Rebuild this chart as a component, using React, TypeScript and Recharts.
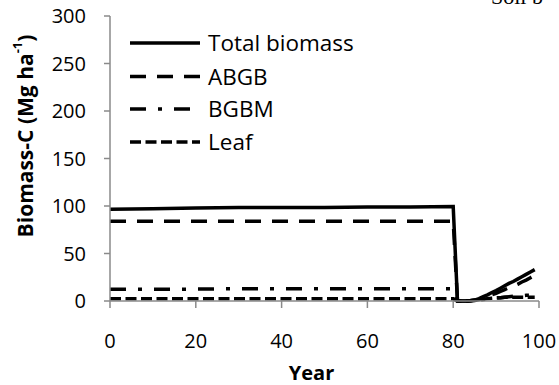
import React from 'react';
import { LineChart, Line, XAxis, YAxis, Label } from 'recharts';

// Years simulated (sparse before the harvest, yearly afterwards)
const years = [0, 10, 20, 30, 40, 50, 60, 70, 80, 81, 82, 83, 84, 85, 86, 87, 88, 89, 90, 91, 92, 93, 94, 95, 96, 97, 98, 99];

// Carbon pools, Mg C per hectare
const totalBiomass = [96.5, 97, 98, 98.5, 98.5, 98.5, 99, 99, 99.5, 0, 0, 0, 0.3, 1, 2.5, 4.5, 6.5, 9, 11, 13.5, 16, 18.5, 20.5, 23, 25.5, 28, 30.5, 33];
const abgb = [84, 84, 84, 84, 84, 84, 84, 84, 84, 0, 0, 0, 0.1, 0.5, 1.5, 3, 4.5, 6.5, 8, 10, 12, 14, 15.5, 17.5, 20, 22, 24.5, 27];
const bgbm = [12.5, 12.5, 12.5, 13, 13, 13, 13, 13, 13, 0, 0, 0, 0.2, 0.5, 1, 1.5, 2, 2.5, 3, 3.5, 4, 4.5, 5, 5.5, 5.5, 6, 6, 6];
const leaf = [2.5, 2.5, 2.5, 2.5, 2.5, 2.5, 2.5, 2.5, 2.5, 0, 0, 0.2, 0.5, 1, 1.5, 2, 2.5, 3, 3.5, 3.5, 4, 4, 4, 4, 4, 4, 4, 4];

const xTicks = [0, 20, 40, 60, 80, 100];
const yTicks = [0, 50, 100, 150, 200, 250, 300];

const seriesNames = ['Total biomass', 'ABGB', 'BGBM', 'Leaf'];
const seriesKeys = ['total', 'abgb', 'bgbm', 'leaf'];
const seriesDash = ['', '16 11', '16 12 4 12', '11 4.5'];

const data = years.map((year, i) => ({
  year,
  total: totalBiomass[i],
  abgb: abgb[i],
  bgbm: bgbm[i],
  leaf: leaf[i],
}));

const FONT = "'Open Sans', sans-serif";
const AXIS_GREY = '#8a8a8a';
const LINE_W = 3.5;

const YTitle = (props: any) => {
  const cy = 136;
  const cx = 25;
  return (
    <text
      x={cx}
      y={cy}
      transform={`rotate(-90, ${cx}, ${cy})`}
      textAnchor="middle"
      dominantBaseline="central"
      fontFamily={FONT}
      fontWeight={700}
      fontSize={21}
      fill="#000"
    >
      Biomass-C (Mg ha
      <tspan fontSize={13} dy={-8}>-1</tspan>
      <tspan dy={8}>)</tspan>
    </text>
  );
};

const XTitle = (props: any) => {
  const vb = props.viewBox || {};
  return (
    <text
      x={vb.x + vb.width / 2 - 13}
      y={380}
      textAnchor="middle"
      fontFamily={FONT}
      fontWeight={700}
      fontSize={20}
      fill="#000"
    >
      Year
    </text>
  );
};

const LegendOverlay = () => {
  const rowY = [43, 76.5, 109, 142];
  const lineEnd = [200, 200, 190, 200];
  return (
    <svg width={559} height={385} style={{ position: 'absolute', left: 0, top: 0, pointerEvents: 'none' }}>
      {seriesNames.map((name, i) => (
        <g key={name}>
          <line
            x1={130}
            x2={lineEnd[i]}
            y1={rowY[i]}
            y2={rowY[i]}
            stroke="#000"
            strokeWidth={LINE_W}
            strokeDasharray={seriesDash[i] || undefined}
          />
          <text x={208} y={rowY[i] + 8} fontFamily={FONT} fontSize={22.5} fill="#000">
            {name}
          </text>
        </g>
      ))}
      <text x={491} y={4} fontFamily="'Liberation Serif', serif" fontSize={22} fill="#000">
        Soil b
      </text>
    </svg>
  );
};

export default function App() {
  return (
    <div style={{ position: 'absolute', left: 0, top: 0, width: 559, height: 385, overflow: 'hidden', background: '#fff' }}>
      <LineChart width={559} height={385} data={data} margin={{ top: 16, right: 20, left: 0, bottom: 0 }}>
        <XAxis
          dataKey="year"
          type="number"
          domain={[0, 100]}
          ticks={xTicks}
          height={84}
          axisLine={{ stroke: AXIS_GREY, strokeWidth: 1.5 }}
          tickLine={{ stroke: AXIS_GREY, strokeWidth: 1.5 }}
          tickSize={7}
          tickMargin={26}
          tick={{ fill: '#000', fontFamily: FONT, fontSize: 20 }}
          interval={0}
        >
          <Label content={<XTitle />} />
        </XAxis>
        <YAxis
          type="number"
          domain={[0, 300]}
          ticks={yTicks}
          width={110}
          axisLine={{ stroke: AXIS_GREY, strokeWidth: 1.5 }}
          tickLine={{ stroke: AXIS_GREY, strokeWidth: 1.5 }}
          tickSize={6}
          tickMargin={18}
          tick={{ fill: '#000', fontFamily: FONT, fontSize: 20 }}
          interval={0}
        >
          <Label content={<YTitle />} />
        </YAxis>
        {seriesKeys.map((key, i) => (
          <Line
            key={key}
            dataKey={key}
            name={seriesNames[i]}
            type="linear"
            stroke="#000"
            strokeWidth={LINE_W}
            strokeDasharray={seriesDash[i] || undefined}
            dot={false}
            activeDot={false}
            isAnimationActive={false}
          />
        ))}
      </LineChart>
      <LegendOverlay />
    </div>
  );
}
